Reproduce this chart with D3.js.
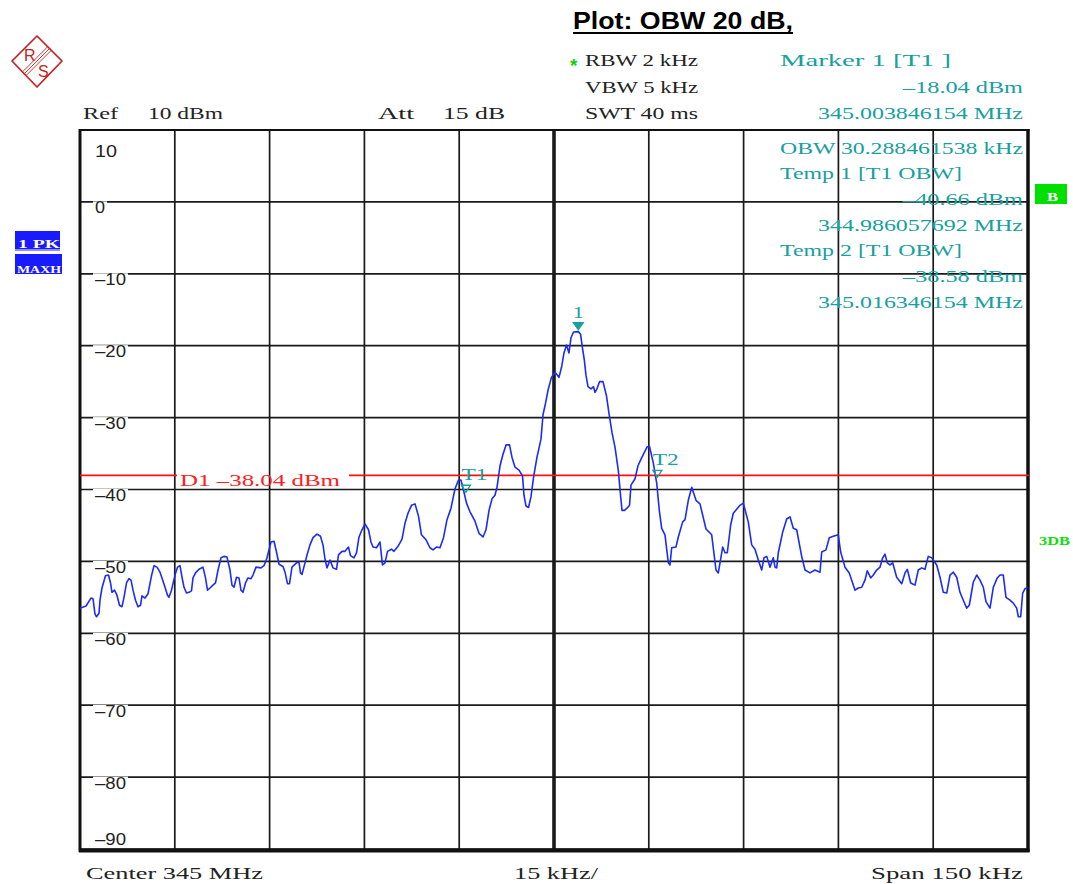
<!DOCTYPE html>
<html><head><meta charset="utf-8">
<script src="https://cdn.jsdelivr.net/npm/d3@7"></script>
<style>body{margin:0;background:#fff}svg{display:block}</style>
</head><body>
<svg id="c" width="1073" height="884"></svg>
<script>
// ---------- data ----------
const freqKHz = [-75.0,-74.05,-73.26,-72.94,-72.63,-72.39,-71.99,-71.84,-71.52,-70.97,
-70.49,-70.17,-69.94,-69.54,-69.15,-68.75,-68.35,-68.04,-67.64,-67.25,
-66.93,-66.61,-66.22,-65.82,-65.43,-65.19,-64.72,-64.24,-63.69,-63.29,
-62.82,-62.34,-62.03,-61.55,-61.15,-60.92,-60.52,-59.97,-59.57,-59.18,
-58.86,-58.54,-58.15,-57.75,-57.36,-57.12,-56.72,-56.17,-55.54,-55.14,
-54.83,-54.43,-53.96,-53.56,-53.16,-52.69,-52.22,-51.74,-51.27,-50.95,
-50.63,-50.24,-49.84,-49.53,-49.21,-48.81,-48.42,-47.94,-47.63,-47.15,
-46.36,-45.89,-45.41,-44.78,-44.30,-43.91,-43.51,-42.88,-42.56,-42.17,
-41.85,-41.46,-40.74,-40.35,-40.11,-39.87,-39.40,-39.08,-38.61,-38.13,
-37.50,-36.95,-36.55,-36.23,-35.92,-35.44,-34.97,-34.41,-34.10,-33.54,
-33.07,-32.52,-32.20,-31.65,-31.25,-30.85,-30.38,-29.91,-29.35,-28.96,
-28.64,-28.09,-27.53,-27.14,-26.74,-26.34,-25.71,-25.32,-24.68,-24.05,
-23.58,-23.10,-22.55,-21.99,-21.44,-20.97,-20.25,-19.62,-19.15,-18.59,
-18.04,-17.48,-16.93,-16.30,-15.66,-15.11,-14.72,-14.32,-13.84,-13.29,
-12.50,-11.87,-11.23,-10.76,-10.28,-9.81,-9.34,-9.02,-8.54,-8.07,
-7.59,-7.04,-6.65,-6.17,-5.54,-4.98,-4.75,-4.43,-4.03,-3.64,
-3.24,-2.69,-2.06,-1.74,-1.34,-0.95,-0.40,0.16,0.79,1.19,
1.58,1.98,2.37,2.69,3.09,3.85,4.2,4.5,4.8,5.06,
5.38,5.85,6.25,6.49,6.80,7.20,7.75,8.31,8.70,9.18,
9.65,10.17,10.55,10.76,11.16,11.55,11.95,12.18,12.82,13.29,
13.92,14.72,15.11,15.71,16.25,16.66,17.04,17.56,18.09,18.35,
18.62,19.30,19.67,20.36,20.73,21.25,21.79,22.47,23.10,24.05,
24.95,25.63,26.00,26.69,27.06,27.42,27.96,28.37,29.43,29.95,
30.74,31.28,31.80,32.33,32.86,33.23,33.66,34.18,34.70,34.97,
35.24,35.49,36.19,36.82,37.34,37.86,38.40,39.19,39.72,40.51,
41.30,42.09,42.36,43.04,43.56,44.19,44.98,45.36,46.04,46.72,
47.63,48.15,48.69,49.21,49.57,50.11,50.52,51.06,51.58,52.01,
52.37,52.74,53.16,53.59,54.22,55.02,55.54,55.90,56.44,57.12,
57.64,58.18,58.70,59.22,59.76,60.55,61.08,61.60,62.14,62.66,
63.18,63.72,64.24,64.76,65.30,65.71,66.34,66.88,67.41,67.93,
68.35,68.99,69.51,70.14,70.57,71.09,71.52,72.15,72.67,73.21,
73.47,73.84,74.16,74.53,75.0];

const levelDbm = [-56.5,-56.2,-55.1,-55.2,-57.3,-57.7,-57.2,-55.4,-53.7,-52.0,
-51.9,-53.0,-54.3,-54.0,-54.7,-56.1,-56.3,-55.0,-53.0,-52.4,
-52.6,-54.0,-55.4,-56.3,-56.1,-54.8,-55.1,-54.5,-52.0,-50.6,
-50.8,-51.5,-52.3,-53.6,-54.7,-55.0,-54.0,-51.9,-50.8,-50.6,
-52.2,-53.6,-54.4,-54.3,-54.1,-52.3,-51.6,-51.1,-50.8,-52.3,
-54.0,-53.7,-53.3,-53.0,-51.2,-49.5,-49.3,-49.4,-51.2,-53.3,
-53.6,-52.2,-52.3,-54.0,-54.3,-53.0,-52.3,-52.4,-51.9,-50.8,
-50.9,-50.6,-49.5,-47.3,-47.2,-48.7,-50.4,-50.7,-51.5,-53.1,
-53.1,-50.8,-50.2,-50.1,-51.6,-51.8,-50.2,-49.1,-47.7,-46.7,
-46.2,-46.5,-47.7,-49.7,-50.9,-49.8,-50.9,-51.1,-49.1,-48.6,
-48.6,-48.0,-49.2,-49.5,-48.8,-46.6,-45.6,-44.8,-45.6,-47.3,
-48.0,-48.1,-47.3,-50.5,-50.2,-48.6,-48.3,-48.6,-47.9,-46.9,
-44.7,-43.3,-42.2,-42.0,-43.7,-46.3,-47.0,-48.1,-48.4,-48.0,
-48.1,-46.7,-44.2,-42.6,-39.9,-38.7,-38.7,-40.1,-41.9,-43.1,
-44.4,-46.1,-46.6,-45.6,-42.9,-41.3,-40.8,-39.7,-36.7,-35.1,
-33.8,-33.8,-35.5,-36.9,-37.3,-38.1,-40.8,-42.3,-42.5,-41.0,
-38.3,-35.5,-33.0,-29.6,-28.0,-26.2,-24.4,-23.7,-24.4,-23.0,
-21.0,-19.9,-21.0,-18.9,-18.1,-18.04,-18.4,-20.3,-22.0,-24.1,
-25.7,-26.0,-25.7,-26.5,-26.0,-25.0,-25.0,-27.0,-29.4,-32.1,
-34.1,-37.3,-41.0,-42.9,-42.9,-42.6,-42.2,-39.4,-38.5,-36.7,
-35.5,-34.1,-34.0,-36.3,-39.1,-42.9,-45.4,-46.3,-50.2,-50.5,
-48.1,-48.0,-46.6,-44.5,-44.2,-41.5,-39.7,-41.5,-42.0,-45.5,
-46.3,-51.2,-51.6,-48.0,-48.8,-48.8,-44.9,-43.3,-42.2,-41.9,
-44.5,-47.7,-48.3,-49.8,-51.2,-49.5,-49.3,-50.8,-49.5,-50.8,
-50.9,-48.8,-45.9,-44.1,-43.8,-45.4,-45.6,-49.3,-51.2,-51.6,
-51.2,-51.5,-48.7,-48.4,-46.7,-46.5,-46.3,-48.7,-50.8,-51.6,
-54.0,-53.7,-53.6,-52.6,-51.3,-52.3,-51.9,-51.2,-50.8,-49.5,
-49.0,-50.2,-50.5,-50.2,-52.2,-53.1,-51.6,-51.1,-53.0,-53.3,
-51.2,-50.9,-51.1,-49.3,-49.5,-50.5,-52.2,-54.3,-54.4,-51.9,
-51.5,-52.2,-54.3,-55.4,-56.5,-56.1,-52.9,-51.9,-52.6,-53.6,
-55.6,-56.5,-53.6,-52.3,-51.9,-51.9,-55.0,-55.4,-55.8,-56.5,
-57.7,-57.7,-54.4,-53.8,-53.6];

const yTickValues = [10, 0, -10, -20, -30, -40, -50, -60, -70, -80, -90];
const xGridValues = [-75, -60, -45, -30, -15, 0, 15, 30, 45, 60, 75];
const displayLineDbm = -38.04;
const markerNames = ["1", "T1", "T2"];
const markerFreqKHz = [3.846, -13.94, 16.35];
const markerLevelDbm = [-18.04, -40.66, -38.58];

// ---------- layout ----------
const svg = d3.select("#c");
const L = 80, R = 1028, T = 130, B = 849;
const x = d3.scaleLinear().domain([-75, 75]).range([L, R]);
const y = d3.scaleLinear().domain([-90, 10]).range([B, T]);

const TEAL = "#16a09e", SERIF = "'Liberation Serif','Times New Roman',serif";
const SANS = "'Liberation Sans',Arial,sans-serif";

svg.append("rect").attr("width", 1073).attr("height", 884).attr("fill", "#fff");

function txt(xp, yp, s, o = {}) {
  const cw = o.cw || 12.1;
  const len = o.len || s.length * cw;
  const x0 = o.anchor === "end" ? xp - len : (o.anchor === "middle" ? xp - len / 2 : xp);
  return svg.append("text").attr("x", x0).attr("y", yp)
    .attr("font-family", o.font || SERIF).attr("font-size", o.size || 16)
    .attr("font-weight", o.weight || "normal")
    .attr("fill", o.color || "#222")
    .attr("textLength", len).attr("lengthAdjust", "spacingAndGlyphs")
    .text(s);
}

// grid
const grid = svg.append("g");
grid.selectAll("line.h").data(yTickValues).join("line")
  .attr("x1", L).attr("x2", R).attr("y1", d => y(d)).attr("y2", d => y(d))
  .attr("stroke", "#1a1a1a").attr("stroke-width", 1.7);
grid.selectAll("line.v").data(xGridValues).join("line")
  .attr("y1", T).attr("y2", B).attr("x1", d => x(d)).attr("x2", d => x(d))
  .attr("stroke", "#1a1a1a").attr("stroke-width", d => d === 0 ? 3.6 : 1.7);

// y labels
const yLab = svg.append("g");
yTickValues.forEach(v => {
  const s = v < 0 ? "\u2013" + Math.abs(v) : String(v);
  let by = y(v) + 11.5;
  if (v === 10) by = 157;
  if (v === -90) by = 845;
  const w = v === 0 ? 10 : (v > 0 ? 22 : 31);
  yLab.append("rect").attr("x", 93).attr("y", by - 12).attr("width", w + 4).attr("height", 14).attr("fill", "#fff");
  txt(95, by, s, { font: SANS, size: 16, len: w, color: "#222" });
});

// frame
svg.append("line").attr("x1", L).attr("x2", L).attr("y1", T - 1).attr("y2", B + 3).attr("stroke", "#111").attr("stroke-width", 3);
svg.append("line").attr("x1", R).attr("x2", R).attr("y1", T - 1).attr("y2", B + 3).attr("stroke", "#111").attr("stroke-width", 3.5);
svg.append("line").attr("x1", L - 1).attr("x2", R + 1.5).attr("y1", T).attr("y2", T).attr("stroke", "#111").attr("stroke-width", 2.2);
svg.append("line").attr("x1", L - 1).attr("x2", R + 1.5).attr("y1", B + 1.5).attr("y2", B + 1.5).attr("stroke", "#111").attr("stroke-width", 4);

// display line D1
const dY = y(displayLineDbm);
svg.append("line").attr("x1", L).attr("x2", 177).attr("y1", dY).attr("y2", dY).attr("stroke", "#ff1010").attr("stroke-width", 1.6);
svg.append("line").attr("x1", 349).attr("x2", R + 1).attr("y1", dY).attr("y2", dY).attr("stroke", "#ff1010").attr("stroke-width", 1.6);
txt(180, 486, "D1 \u201338.04 dBm", { color: "#ff2020", len: 160 });

// trace
const pts = freqKHz.map((f, i) => [f, levelDbm[i]]);
svg.append("path").datum(pts)
  .attr("d", d3.line().x(d => x(d[0])).y(d => y(d[1])))
  .attr("fill", "none").attr("stroke", "#1c2cf2").attr("stroke-width", 1.6)
  .attr("stroke-linejoin", "round");

// markers
markerNames.forEach((n, i) => {
  const mx = x(markerFreqKHz[i]), my = y(markerLevelDbm[i]);
  const apex = my - 2, top = apex - 7, hw = n === "1" ? 5 : 4.5;
  svg.append("path").attr("d", `M${mx - hw},${top}L${mx + hw},${top}L${mx},${apex}Z`)
    .attr("fill", n === "1" ? TEAL : "none").attr("stroke", TEAL).attr("stroke-width", 1.3);
  if (n === "1") txt(mx, top - 5, n, { color: TEAL, anchor: "middle", len: 11 });
  else txt(mx - 4.5, top - 5, n, { color: TEAL, len: 26 });
});

// title
txt(573, 29, "Plot: OBW 20 dB,", { font: SANS, size: 23, weight: "bold", color: "#000", len: 220 });
svg.append("line").attr("x1", 573).attr("x2", 793).attr("y1", 33).attr("y2", 33).attr("stroke", "#000").attr("stroke-width", 2);

// header
txt(83, 119, "Ref", { len: 35 });
txt(148, 119, "10 dBm", { len: 75 });
txt(378, 119, "Att", { len: 36 });
txt(443, 119, "15 dB", { len: 62 });
svg.append("text").attr("x", 570).attr("y", 72).attr("font-family", SANS).attr("font-size", 19)
  .attr("font-weight", "bold").attr("fill", "#10d010").text("*");
txt(585, 66, "RBW 2 kHz", { len: 113 });
txt(585, 93, "VBW 5 kHz", { len: 113 });
txt(585, 119, "SWT 40 ms", { len: 113 });

txt(780, 66, "Marker 1 [T1 ]", { color: TEAL, len: 171 });
txt(1023, 93, "\u201318.04 dBm", { color: TEAL, anchor: "end", len: 120 });
txt(1023, 119, "345.003846154 MHz", { color: TEAL, anchor: "end", len: 205 });
txt(780, 154, "OBW 30.288461538 kHz", { color: TEAL, len: 243 });
txt(780, 179, "Temp 1 [T1 OBW]", { color: TEAL, len: 182 });
txt(1023, 205, "\u201340.66 dBm", { color: TEAL, anchor: "end", len: 120 });
txt(1023, 231, "344.986057692 MHz", { color: TEAL, anchor: "end", len: 205 });
txt(780, 256, "Temp 2 [T1 OBW]", { color: TEAL, len: 182 });
txt(1023, 282, "\u201338.58 dBm", { color: TEAL, anchor: "end", len: 120 });
txt(1023, 308, "345.016346154 MHz", { color: TEAL, anchor: "end", len: 205 });

// footer
txt(86, 879, "Center  345 MHz", { len: 177, color: "#222" });
txt(514, 879, "15 kHz/", { len: 84, color: "#222" });
txt(871, 879, "Span  150 kHz", { len: 152, color: "#222" });

// side badges
svg.append("rect").attr("x", 15).attr("y", 231).attr("width", 45).attr("height", 20).attr("fill", "#1a1aff");
svg.append("line").attr("x1", 15).attr("x2", 60).attr("y1", 250).attr("y2", 250).attr("stroke", "#fff").attr("stroke-width", 1);
txt(18, 248, "1 PK", { color: "#fff", weight: "bold", size: 13, len: 42 });
svg.append("rect").attr("x", 15).attr("y", 254).attr("width", 47).attr("height", 20).attr("fill", "#1a1aff");
txt(17, 273, "MAXH", { color: "#fff", weight: "bold", size: 11, len: 44 });
svg.append("rect").attr("x", 1035).attr("y", 184).attr("width", 32).attr("height", 20).attr("fill", "#00e000");
txt(1047, 201, "B", { color: "#fff", weight: "bold", size: 12, len: 11 });
txt(1039, 545, "3DB", { color: "#10dd10", weight: "bold", size: 13, len: 31 });

// R&S logo
const lg = svg.append("g").attr("stroke", "#c81e1e").attr("fill", "none");
lg.append("path").attr("d", "M37,36 L62,61 L37,87 L12,61 Z").attr("stroke-width", 1.7).attr("stroke-linejoin", "round");
[-1.8, 0, 1.8].forEach(o => {
  lg.append("line").attr("x1", 49.5 + o).attr("y1", 48.5 + o).attr("x2", 24.5 + o).attr("y2", 73.5 + o).attr("stroke-width", 0.9);
});
svg.append("text").attr("x", 24).attr("y", 61).attr("font-family", SANS).attr("font-size", 16).attr("fill", "#c81e1e").text("R");
svg.append("text").attr("x", 38).attr("y", 77).attr("font-family", SANS).attr("font-size", 16).attr("fill", "#c81e1e").text("S");
</script>
</body></html>
